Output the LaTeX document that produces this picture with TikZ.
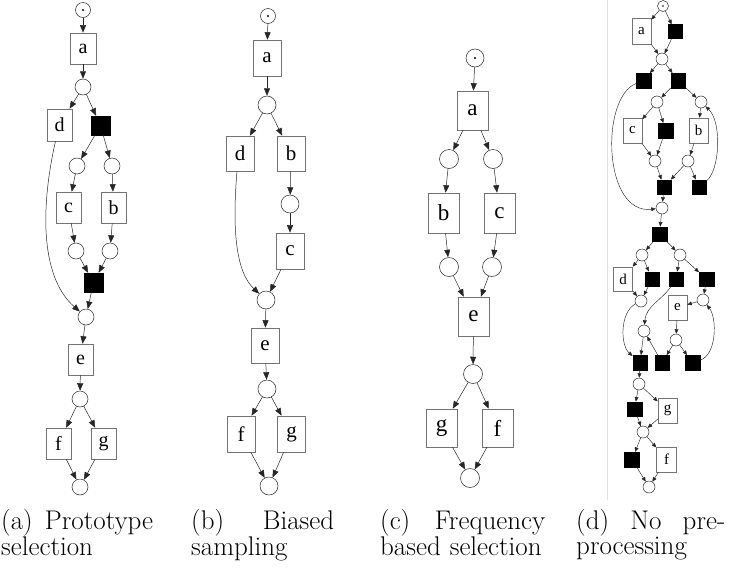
\documentclass[tikz,border=0pt]{standalone}
\usepackage{fontspec}
\newfontfamily\tms{Liberation Serif}
\usetikzlibrary{arrows.meta}
\tikzset{
  pl/.style={circle,draw=black!85,line width=0.5pt,inner sep=0pt,minimum size=#1},
  tb/.style n args={3}{rectangle,draw=black!55,line width=0.6pt,inner sep=0pt,minimum width=#1,minimum height=#2,font=\tms\fontsize{#3}{#3}\selectfont},
  bk/.style={rectangle,fill=black,draw=black,inner sep=0pt,minimum size=#1},
  ar/.style={draw=black!85,line width=0.5pt,-{Triangle[length=7.5pt,width=6pt]}},
  ard/.style={draw=black!85,line width=0.45pt,-{Triangle[length=4.5pt,width=3.8pt]}},
  captxt/.style={anchor=north west,inner sep=0pt,text width=#1,align=left,font=\fontsize{27}{24}\selectfont}
}
\begin{document}
\begin{tikzpicture}[x=1pt,y=-1pt]
\useasboundingbox (0,0) rectangle (729,571);
% ---------------- panel (a)
\node[pl=15] (sA) at (83,10) {};
\fill (sA) circle (1.2pt);
\node[tb={26pt}{31pt}{20}] (aA) at (83,48.5) {a};
\node[pl=16] (pA1) at (83,87) {};
\node[tb={25pt}{32pt}{20}] (dA) at (59.5,125) {d};
\node[bk=19pt] (kA1) at (100.5,125.5) {};
\node[pl=16] (pA2) at (77,166) {};
\node[pl=16] (pA3) at (112,166) {};
\node[tb={25pt}{31pt}{20}] (cA) at (68.5,207.5) {c};
\node[tb={25pt}{31pt}{20}] (bA) at (113.5,207.5) {b};
\node[pl=16] (pA4) at (76,251) {};
\node[pl=16] (pA5) at (110,251) {};
\node[bk=19pt] (kA2) at (93.5,282.5) {};
\node[pl=16] (pA6) at (86,317) {};
\node[tb={25pt}{31pt}{20}] (eA) at (80.5,359.5) {e};
\node[pl=16] (pA7) at (80,399) {};
\node[tb={25pt}{31pt}{20}] (fA) at (58.5,443.5) {f};
\node[tb={25pt}{31pt}{20}] (gA) at (103.5,443.5) {g};
\node[pl=16] (pA8) at (80,487) {};
\draw[ar] (sA) -- (aA);
\draw[ar] (aA) -- (pA1);
\draw[ar] (pA1) -- (dA);
\draw[ar] (pA1) -- (kA1);
\draw[ar] (kA1) -- (pA2);
\draw[ar] (kA1) -- (pA3);
\draw[ar] (pA2) -- (cA);
\draw[ar] (pA3) -- (bA);
\draw[ar] (cA) -- (pA4);
\draw[ar] (bA) -- (pA5);
\draw[ar] (pA4) -- (kA2);
\draw[ar] (pA5) -- (kA2);
\draw[ar] (kA2) -- (pA6);
\draw[ar] ([xshift=-4pt]dA.south) .. controls (42,200) and (38,275) .. (pA6);
\draw[ar] (pA6) -- (eA);
\draw[ar] (eA) -- (pA7);
\draw[ar] (pA7) -- (fA);
\draw[ar] (pA7) -- (gA);
\draw[ar] (fA) -- (pA8);
\draw[ar] (gA) -- (pA8);
% ---------------- panel (b)
\node[pl=15] (sB) at (268,16) {};
\fill (sB) circle (1.2pt);
\node[tb={28pt}{36pt}{21}] (aB) at (267,58) {a};
\node[pl=18] (pB1) at (267,105) {};
\node[tb={28pt}{35pt}{21}] (dB) at (240,153.5) {d};
\node[tb={28pt}{35pt}{21}] (bB) at (291,153.5) {b};
\node[pl=18] (pB2) at (290,204) {};
\node[tb={28pt}{36pt}{21}] (cB) at (290,251) {c};
\node[pl=18] (pB3) at (266,300) {};
\node[tb={28pt}{35pt}{21}] (eB) at (265,345.5) {e};
\node[pl=18] (pB4) at (267,389) {};
\node[tb={28pt}{36pt}{21}] (fB) at (241,434) {f};
\node[tb={28pt}{36pt}{21}] (gB) at (291.5,434) {g};
\node[pl=18] (pB5) at (269,486) {};
\draw[ar] (sB) -- (aB);
\draw[ar] (aB) -- (pB1);
\draw[ar] (pB1) -- (dB);
\draw[ar] (pB1) -- (bB);
\draw[ar] (bB) -- (pB2);
\draw[ar] (pB2) -- (cB);
\draw[ar] (cB) -- (pB3);
\draw[ar] ([xshift=-3pt]dB.south) .. controls (232,230) and (236,272) .. (pB3);
\draw[ar] (pB3) -- (eB);
\draw[ar] (eB) -- (pB4);
\draw[ar] (pB4) -- (fB);
\draw[ar] (pB4) -- (gB);
\draw[ar] (fB) -- (pB5);
\draw[ar] (gB) -- (pB5);
% ---------------- panel (c)
\node[pl=18] (sC) at (475,58) {};
\fill (sC) circle (1.2pt);
\node[tb={31pt}{39pt}{23}] (aC) at (472.5,110.5) {a};
\node[pl=19] (pC1) at (449,159) {};
\node[pl=19] (pC2) at (493,159) {};
\node[tb={31pt}{40pt}{23}] (bC) at (443.5,213) {b};
\node[tb={31pt}{40pt}{23}] (cC) at (499.5,213) {c};
\node[pl=19] (pC3) at (449,267) {};
\node[pl=19] (pC4) at (492,267) {};
\node[tb={31pt}{39pt}{23}] (eC) at (473.5,316.5) {e};
\node[pl=19] (pC5) at (473,374) {};
\node[tb={31pt}{38pt}{23}] (gC) at (441.5,428) {g};
\node[tb={31pt}{38pt}{23}] (fC) at (497.5,428) {f};
\node[pl=19] (pC6) at (470,478) {};
\draw[ar] (sC) -- (aC);
\draw[ar] (aC) -- (pC1);
\draw[ar] (aC) -- (pC2);
\draw[ar] (pC1) -- (bC);
\draw[ar] (pC2) -- (cC);
\draw[ar] (bC) -- (pC3);
\draw[ar] (cC) -- (pC4);
\draw[ar] (pC3) -- (eC);
\draw[ar] (pC4) -- (eC);
\draw[ar] (eC) -- (pC5);
\draw[ar] (pC5) -- (gC);
\draw[ar] (pC5) -- (fC);
\draw[ar] (gC) -- (pC6);
\draw[ar] (fC) -- (pC6);
% ---------------- panel (d)
\draw[black!12,line width=0.5pt] (607.5,0) -- (607.5,500);
\node[pl=11] (sD) at (663,6) {};
\fill (sD) circle (0.9pt);
\node[tb={19pt}{26pt}{15}] (aD) at (641.5,31) {a};
\node[bk=14pt] (kD0) at (675,31.5) {};
\node[pl=12] (pD1) at (662,59) {};
\node[bk=14.5pt] (kL1) at (643.5,80.5) {};
\node[bk=14.5pt] (kR1) at (678,80.5) {};
\node[pl=12] (pD5) at (657,102) {};
\node[pl=12] (pD6) at (701,102) {};
\node[tb={19pt}{25pt}{15}] (cD) at (632.5,130.5) {c};
\node[bk=14.5pt] (kM) at (665.5,130.5) {};
\node[tb={19pt}{25pt}{15}] (bD) at (698.5,130.5) {b};
\node[pl=12] (pD7) at (655,161) {};
\node[pl=12] (pD8) at (688,161) {};
\node[bk=14.5pt] (kK) at (664,187) {};
\node[bk=14.5pt] (kR2) at (699,187) {};
\node[pl=12] (pD9) at (662,208) {};
\node[bk=14.5pt] (kT) at (659.5,234) {};
\node[pl=12] (qD4) at (642,255) {};
\node[pl=12] (qD5) at (680,255) {};
\node[tb={19pt}{24pt}{15}] (dD) at (623,279) {d};
\node[bk=14.5pt] (kK4) at (652,279) {};
\node[bk=14.5pt] (kK3) at (676,279) {};
\node[bk=14.5pt] (kK5) at (706.5,279) {};
\node[pl=12] (qD1) at (641,301) {};
\node[pl=12] (qD2) at (703,300) {};
\node[tb={19pt}{25pt}{15}] (eD) at (677.5,307.5) {e};
\node[pl=12] (qD3) at (644,331) {};
\node[pl=12] (qD6) at (676,340) {};
\node[bk=14.5pt] (kK1) at (640,362.5) {};
\node[bk=14.5pt] (kK2) at (662,362.5) {};
\node[bk=14.5pt] (kK6) at (692.5,362.5) {};
\node[pl=12] (qD7) at (639,384) {};
\node[bk=14.5pt] (kG0) at (634.5,409) {};
\node[tb={19pt}{25pt}{15}] (gD) at (667.5,410.5) {g};
\node[pl=12] (qD8) at (643,432) {};
\node[bk=15pt] (kF0) at (632,459.5) {};
\node[tb={20pt}{25pt}{15}] (fD) at (666.5,459.5) {f};
\node[pl=12] (qD9) at (649,487) {};
\draw[ard] (sD) -- (aD);
\draw[ard] (sD) -- (kD0);
\draw[ard] (aD) -- (pD1);
\draw[ard] (kD0) -- (pD1);
\draw[ard] (pD1) -- (kL1);
\draw[ard] (pD1) -- (kR1);
\draw[ard] (kR1) -- (pD5);
\draw[ard] (kR1) -- (pD6);
\draw[ard] (pD5) -- (cD);
\draw[ard] (pD5) -- (kM);
\draw[ard] (pD6) -- (bD);
\draw[ard] (cD) -- (pD7);
\draw[ard] (kM) -- (pD7);
\draw[ard] (bD) -- (pD8);
\draw[ard] (pD7) -- (kK);
\draw[ard] (pD8) -- (kK);
\draw[ard] (pD8) -- (kR2);
\draw[ard] (kK) -- (pD9);
\draw[ard] (kR2) .. controls (720,170) and (722,122) .. (pD6);
\draw[ard] (kL1) .. controls (600,98) and (603,215) .. (pD9);
\draw[ard] (pD9) -- (kT);
\draw[ard] (kT) -- (qD4);
\draw[ard] (kT) -- (qD5);
\draw[ard] (qD4) -- (dD);
\draw[ard] (qD4) -- (kK4);
\draw[ard] (qD5) -- (kK3);
\draw[ard] (qD5) -- (kK5);
\draw[ard] (dD) -- (qD1);
\draw[ard] (kK4) -- (qD1);
\draw[ard] (kK5) -- (qD2);
\draw[ard] (qD2) -- (eD);
\draw[ard] (kK3) .. controls (662,300) and (646,306) .. (qD3);
\draw[ard] (eD) -- (qD6);
\draw[ard] (qD6) -- (kK2);
\draw[ard] (qD6) -- (kK6);
\draw[ard] (kK2) -- (qD3);
\draw[ard] (qD3) -- (kK1);
\draw[ard] (qD1) .. controls (620,312) and (620,345) .. (kK1);
\draw[ard] (kK6) .. controls (717,355) and (717,318) .. (qD2);
\draw[ard] (kK1) -- (qD7);
\draw[ard] (qD7) -- (kG0);
\draw[ard] (qD7) -- (gD);
\draw[ard] (kG0) -- (qD8);
\draw[ard] (gD) -- (qD8);
\draw[ard] (qD8) -- (kF0);
\draw[ard] (qD8) -- (fD);
\draw[ard] (kF0) -- (qD9);
\draw[ard] (fD) -- (qD9);
% ---------------- captions
\node[captxt=152pt] (capA) at (1,509) {(a)\hfill Prototype\\selection};
\node[captxt=143pt] (capB) at (191,509) {(b)\hfill Biased\\sampling};
\node[captxt=165pt] (capC) at (380,509) {(c)\hfill Frequency\\based selection};
\node[captxt=149pt] (capD) at (576,509) {(d)\hfill No\hfill pre-\\processing};
\end{tikzpicture}
\end{document}
